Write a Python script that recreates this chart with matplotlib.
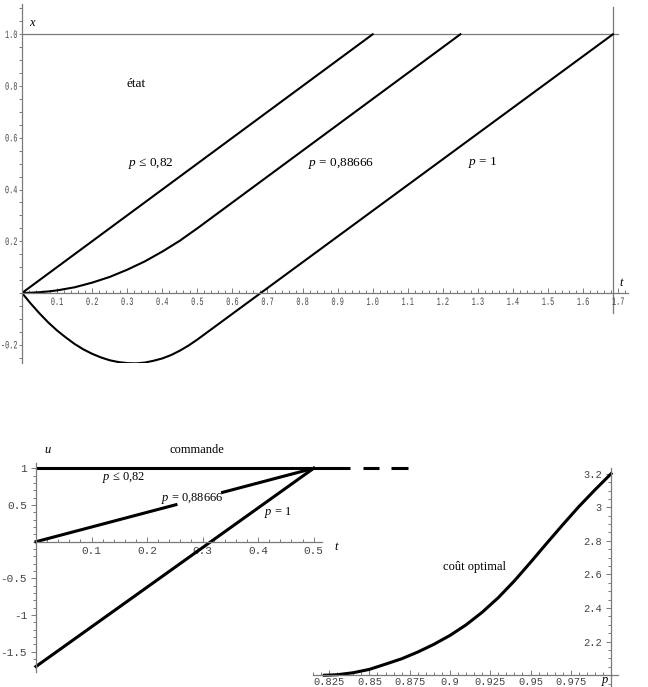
import matplotlib
matplotlib.use("Agg")
import matplotlib.pyplot as plt
from matplotlib.ticker import MultipleLocator
from matplotlib.textpath import TextPath
from matplotlib.patches import PathPatch
from matplotlib.font_manager import FontProperties
from matplotlib.transforms import Affine2D

plt.rcParams['mathtext.fontset'] = 'custom'
plt.rcParams['mathtext.it'] = 'Liberation Serif:italic'
plt.rcParams['mathtext.rm'] = 'Liberation Serif'

# --- etat : x(t) for the three values of p
t_low = [0.0, 1.0]
x_low = [0.0, 1.0]
t_mid = [0.0, 0.025, 0.05, 0.075, 0.1, 0.125, 0.15, 0.175, 0.2, 0.225, 0.25, 0.275,
         0.3, 0.325, 0.35, 0.375, 0.4, 0.425, 0.45, 0.475, 0.5, 1.25]
x_mid = [0.0, 0.001, 0.003, 0.006, 0.01, 0.016, 0.022, 0.031, 0.04, 0.051, 0.062, 0.076,
         0.09, 0.106, 0.122, 0.141, 0.16, 0.181, 0.202, 0.226, 0.25, 1.0]
t_one = [0.0, 0.025, 0.05, 0.075, 0.1, 0.125, 0.15, 0.175, 0.2, 0.225, 0.25, 0.275,
         0.3, 0.325, 0.35, 0.375, 0.4, 0.425, 0.45, 0.475, 0.5, 1.685]
x_one = [0.0, -0.041, -0.079, -0.114, -0.145, -0.172, -0.197, -0.218, -0.235, -0.249,
         -0.26, -0.267, -0.271, -0.272, -0.269, -0.262, -0.253, -0.24, -0.223, -0.203,
         -0.18, 1.0]
t_final = 1.685
x_target = 1.0

xt_ticks = [0.1, 0.2, 0.3, 0.4, 0.5, 0.6, 0.7, 0.8, 0.9, 1.0, 1.1, 1.2, 1.3, 1.4, 1.5, 1.6, 1.7]
xt_labels = ['0.1', '0.2', '0.3', '0.4', '0.5', '0.6', '0.7', '0.8', '0.9', '1.0',
             '1.1', '1.2', '1.3', '1.4', '1.5', '1.6', '1.7']
xy_ticks = [-0.2, 0.2, 0.4, 0.6, 0.8, 1.0]
xy_labels = ['-0.2', '0.2', '0.4', '0.6', '0.8', '1.0']

# --- commande : u(t)
u_low_t = [0.0, 0.566]
u_low = [1.0, 1.0]
u_low_dash = [(0.589, 0.617), (0.640, 0.670)]
u_mid_t = [[0.0, 0.252], [0.336, 0.5]]
u_mid = [[0.0, 0.504], [0.672, 1.0]]
u_one_t = [0.0, 0.5]
u_one = [-1.7, 1.0]

ut_ticks = [0.1, 0.2, 0.3, 0.4, 0.5]
ut_labels = ['0.1', '0.2', '0.3', '0.4', '0.5']
uy_ticks = [-1.5, -1.0, -0.5, 0.5, 1.0]
uy_labels = ['-1.5', '-1', '-0.5', '0.5', '1']

# --- cout optimal
p_cost = [0.822, 0.83, 0.84, 0.85, 0.86, 0.87, 0.88, 0.89, 0.90, 0.91, 0.92,
          0.93, 0.94, 0.95, 0.96, 0.97, 0.98, 0.99, 1.0]
c_cost = [2.0, 2.003, 2.015, 2.035, 2.066, 2.098, 2.138, 2.184, 2.237, 2.300, 2.375,
          2.462, 2.562, 2.672, 2.785, 2.896, 3.004, 3.104, 3.2]

cp_ticks = [0.825, 0.85, 0.875, 0.9, 0.925, 0.95, 0.975]
cp_labels = ['0.825', '0.85', '0.875', '0.9', '0.925', '0.95', '0.975']
cc_ticks = [2.2, 2.4, 2.6, 2.8, 3.0, 3.2]
cc_labels = ['2.2', '2.4', '2.6', '2.8', '3', '3.2']

W, H = 648, 687
AX_COL = '#7a7a7a'
LAB_COL = '#444444'
SERIF = 'Liberation Serif'
MONO = 'Liberation Mono'


def px_box(left, right, top, bottom):
    return [left / W, 1 - bottom / H, (right - left) / W, (bottom - top) / H]


def style_axes(ax, x0, y0, fsize, xminor, yminor, ypad=3, xpad=3):
    ax.patch.set_alpha(0)
    for s in ['top', 'right']:
        ax.spines[s].set_visible(False)
    ax.spines['left'].set_position(('data', x0))
    ax.spines['bottom'].set_position(('data', y0))
    for s in ['left', 'bottom']:
        ax.spines[s].set_color(AX_COL)
        ax.spines[s].set_linewidth(0.9)
    ax.xaxis.set_minor_locator(MultipleLocator(xminor))
    ax.yaxis.set_minor_locator(MultipleLocator(yminor))
    ax.tick_params(axis='x', which='both', direction='in', colors=AX_COL,
                   labelcolor=LAB_COL, labelsize=fsize, pad=xpad, width=0.7)
    ax.tick_params(axis='y', which='both', direction='out', colors=AX_COL,
                   labelcolor=LAB_COL, labelsize=fsize, pad=ypad, width=0.7)
    ax.tick_params(which='major', length=3.5)
    ax.tick_params(which='minor', length=2)
    for lab in ax.get_xticklabels() + ax.get_yticklabels():
        lab.set_family(MONO)


def narrow_label(fig, s, x, y, ha, va, size=8, sx=0.62):
    # condensed monospace label drawn as a path, anchored in pixels
    tp = TextPath((0, 0), s, size=size, prop=FontProperties(family=MONO))
    k = fig.dpi / 72
    ext = tp.get_extents()
    w, h = ext.width * k * sx, ext.height * k
    x0 = x - w / 2 if ha == 'center' else x - w
    y0 = y - h / 2 if va == 'center' else y - h
    tr = Affine2D().translate(-ext.x0, -ext.y0).scale(k * sx, k).translate(x0, y0)
    fig.add_artist(PathPatch(tp, transform=tr, fc=LAB_COL, ec='none', lw=0))


fig = plt.figure(figsize=(W / 100, H / 100), dpi=100)

# top: etat
ax1 = fig.add_axes(px_box(22, 628, 4, 363))
ax1.set_xlim(0, 1.728)
ax1.set_ylim(-0.2706, 1.117)
ax1.set_xticks(xt_ticks)
ax1.set_yticks(xy_ticks)
style_axes(ax1, 0, 0, 6, 0.02, 0.05)
ax1.tick_params(labelbottom=False, labelleft=False)
ax1.tick_params(axis='y', which='major', length=2.5)
for tv, lab in zip(xt_ticks, xt_labels):
    X, Y = ax1.transData.transform((tv, 0))
    narrow_label(fig, lab, X, Y - 4.5, 'center', 'top')
for yv, lab in zip(xy_ticks, xy_labels):
    X, Y = ax1.transData.transform((0, yv))
    narrow_label(fig, lab, X - 5, Y, 'right', 'center')
ax1.plot([0, 1.70], [x_target, x_target], color=AX_COL, lw=0.9)
ax1.plot([t_final, t_final], [-0.077, 1.106], color=AX_COL, lw=0.9)
ax1.plot(t_low, x_low, color='black', lw=1.5)
ax1.plot(t_mid, x_mid, color='black', lw=1.5)
ax1.plot(t_one, x_one, color='black', lw=1.5)
ax1.text(0.031, 1.044, r'$x$', fontsize=9, family=SERIF, ha='center', va='center')
ax1.text(1.711, 0.039, r'$t$', fontsize=9, family=SERIF, ha='center', va='center')
ax1.text(0.325, 0.808, 'état', fontsize=9.5, family=SERIF, ha='center', va='center')
ax1.text(0.368, 0.499, r'$p$ ≤ 0,82', fontsize=9.5, family=SERIF, ha='center', va='center')
ax1.text(0.91, 0.499, r'$p$ = 0,88666', fontsize=9.5, family=SERIF, ha='center', va='center')
ax1.text(1.314, 0.503, r'$p$ = 1', fontsize=9.5, family=SERIF, ha='center', va='center')

# bottom left: commande
ax2 = fig.add_axes(px_box(36, 322, 463, 672))
ax2.set_xlim(0, 0.515)
ax2.set_ylim(-1.775, 1.072)
ax2.set_xticks(ut_ticks, ut_labels)
ax2.set_yticks(uy_ticks, uy_labels)
style_axes(ax2, 0, 0, 8, 0.02, 0.1)
ax2.plot(u_low_t, u_low, color='black', lw=2.2, clip_on=False, solid_capstyle='butt')
for a, b in u_low_dash:
    ax2.plot([a, b], [1.0, 1.0], color='black', lw=2.2, clip_on=False, solid_capstyle='butt')
for tt, uu in zip(u_mid_t, u_mid):
    ax2.plot(tt, uu, color='black', lw=2.2, clip_on=False)
ax2.plot(u_one_t, u_one, color='black', lw=2.2, clip_on=False)
ax2.text(0.0216, 1.249, r'$u$', fontsize=9, family=SERIF, ha='center', va='center')
ax2.text(0.542, -0.072, r'$t$', fontsize=9, family=SERIF, ha='center', va='center')
ax2.text(0.29, 1.249, 'commande', fontsize=9, family=SERIF, ha='center', va='center')
ax2.text(0.157, 0.868, r'$p$ ≤ 0,82', fontsize=9, family=SERIF, ha='center', va='center')
ax2.text(0.281, 0.582, r'$p$ = 0,88666', fontsize=9, family=SERIF, ha='center', va='center')
ax2.text(0.436, 0.391, r'$p$ = 1', fontsize=9, family=SERIF, ha='center', va='center')

# bottom right: cout optimal
ax3 = fig.add_axes(px_box(313, 618, 468, 687))
ax3.set_xlim(0.815, 1.0043)
ax3.set_ylim(1.930, 3.234)
ax3.set_xticks(cp_ticks, cp_labels)
ax3.set_yticks(cc_ticks, cc_labels)
style_axes(ax3, 1.0, 2.0, 7.5, 0.005, 0.05, xpad=1.5)
ax3.plot(p_cost, c_cost, color='black', lw=2.2, clip_on=False)
ax3.text(0.9963, 1.96, r'$p$', fontsize=9, family=SERIF, ha='center', va='center')
ax3.text(0.915, 2.645, 'coût optimal', fontsize=9, family=SERIF, ha='center', va='center')

fig.savefig('out.png', dpi=100)
